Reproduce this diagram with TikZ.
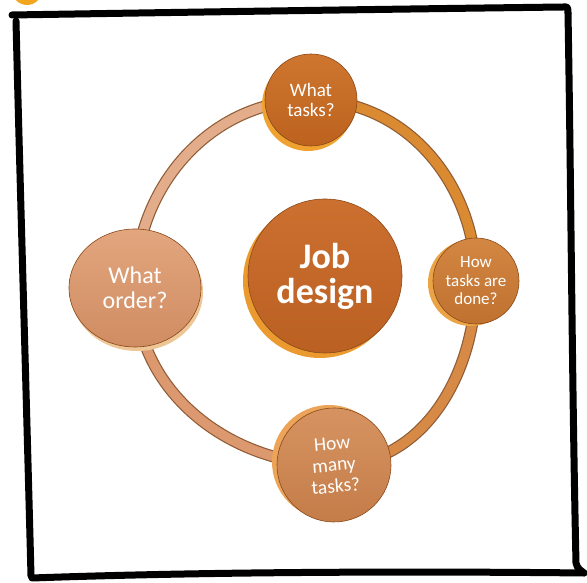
\documentclass[tikz,border=0pt]{standalone}
\usepackage{fontspec}
\setmainfont{Carlito}
\usetikzlibrary{shadows,backgrounds,shapes.geometric}

\definecolor{blobcol}{HTML}{F2A51F}
\definecolor{discedge}{HTML}{8A4818}
\definecolor{ringedge}{HTML}{8F5C36}

\begin{document}
\begin{tikzpicture}[x=1pt,y=1pt,
    disc/.style={circle, inner sep=0pt, text=white, align=center, draw=discedge, line width=0.6pt},
    ring/.style={draw=ringedge, line width=1.2pt, double distance=9.5pt},
    frame/.style={line width=7pt, line cap=round, line join=round}]
  \useasboundingbox (0,0) rectangle (587,583);
  \fill[blobcol] (27,593) circle (15);

  % hand drawn frame
  \draw[frame] (12,568) .. controls (200,571) and (400,574) .. (564,576) .. controls (568,577) and (568,574) .. (568,570);
  \draw[frame] (568,570) .. controls (571,400) and (572,200) .. (576,20) .. controls (577,14) and (582,12) .. (584,10);
  \draw[frame] (32,5) .. controls (200,11) and (400,12) .. (584,10);
  \draw[frame] (16,562) .. controls (20,400) and (26,200) .. (31,7);

  \node[disc, minimum size=154, top color={rgb,255:red,204;green,112;blue,48}, bottom color={rgb,255:red,186;green,96;blue,34},
        font={\bfseries\fontsize{36}{35}\selectfont},
        drop shadow={shadow xshift=-5pt, shadow yshift=-5pt, opacity=1, fill={rgb,255:red,235;green,154;blue,48}}]
        (job) at (325,307) {Job\\design};
  \node[disc, minimum size=92, top color={rgb,255:red,206;green,118;blue,48}, bottom color={rgb,255:red,188;green,98;blue,30},
        font={\fontsize{19}{19.5}\selectfont},
        drop shadow={shadow xshift=-3pt, shadow yshift=-5pt, opacity=1, fill={rgb,255:red,240;green,162;blue,48}}]
        (top) at (311,483) {What\\tasks?};
  \node[disc, minimum size=86, top color={rgb,255:red,210;green,135;blue,66}, bottom color={rgb,255:red,192;green,113;blue,48},
        font={\fontsize{17}{18.5}\selectfont},
        drop shadow={shadow xshift=-5pt, shadow yshift=-2pt, opacity=1, fill={rgb,255:red,234;green,164;blue,70}}]
        (right) at (476,302) {How\\tasks are\\done?};
  \node[disc, ellipse, minimum width=132, minimum height=118, top color={rgb,255:red,226;green,166;blue,126}, bottom color={rgb,255:red,208;green,140;blue,98},
        font={\fontsize{24}{25}\selectfont},
        drop shadow={shadow xshift=2pt, shadow yshift=-4pt, opacity=1, fill={rgb,255:red,238;green,198;blue,150}}]
        (left) at (135,295) {What\\order?};
  \node[disc, minimum size=114, rotate=5, top color={rgb,255:red,214;green,148;blue,98}, bottom color={rgb,255:red,196;green,124;blue,72},
        font={\fontsize{19.5}{21.5}\selectfont},
        drop shadow={shadow xshift=-5pt, shadow yshift=3pt, opacity=1, fill={rgb,255:red,235;green,164;blue,88}}]
        (bottom) at (334,118) {How\\many\\tasks?};

  \begin{scope}[on background layer]
    \draw[ring, double={rgb,255:red,227;green,172;blue,138}] (top.center) to[out=180,in=90] (left.center);
    \draw[ring, double={rgb,255:red,220;green,152;blue,110}] (left.center) to[out=270,in=180] (bottom.center);
    \draw[ring, double={rgb,255:red,214;green,138;blue,70}] (bottom.center) to[out=0,in=270] (right.center);
    \draw[ring, double={rgb,255:red,218;green,138;blue,48}] (right.center) to[out=90,in=0] (top.center);
  \end{scope}
\end{tikzpicture}
\end{document}
